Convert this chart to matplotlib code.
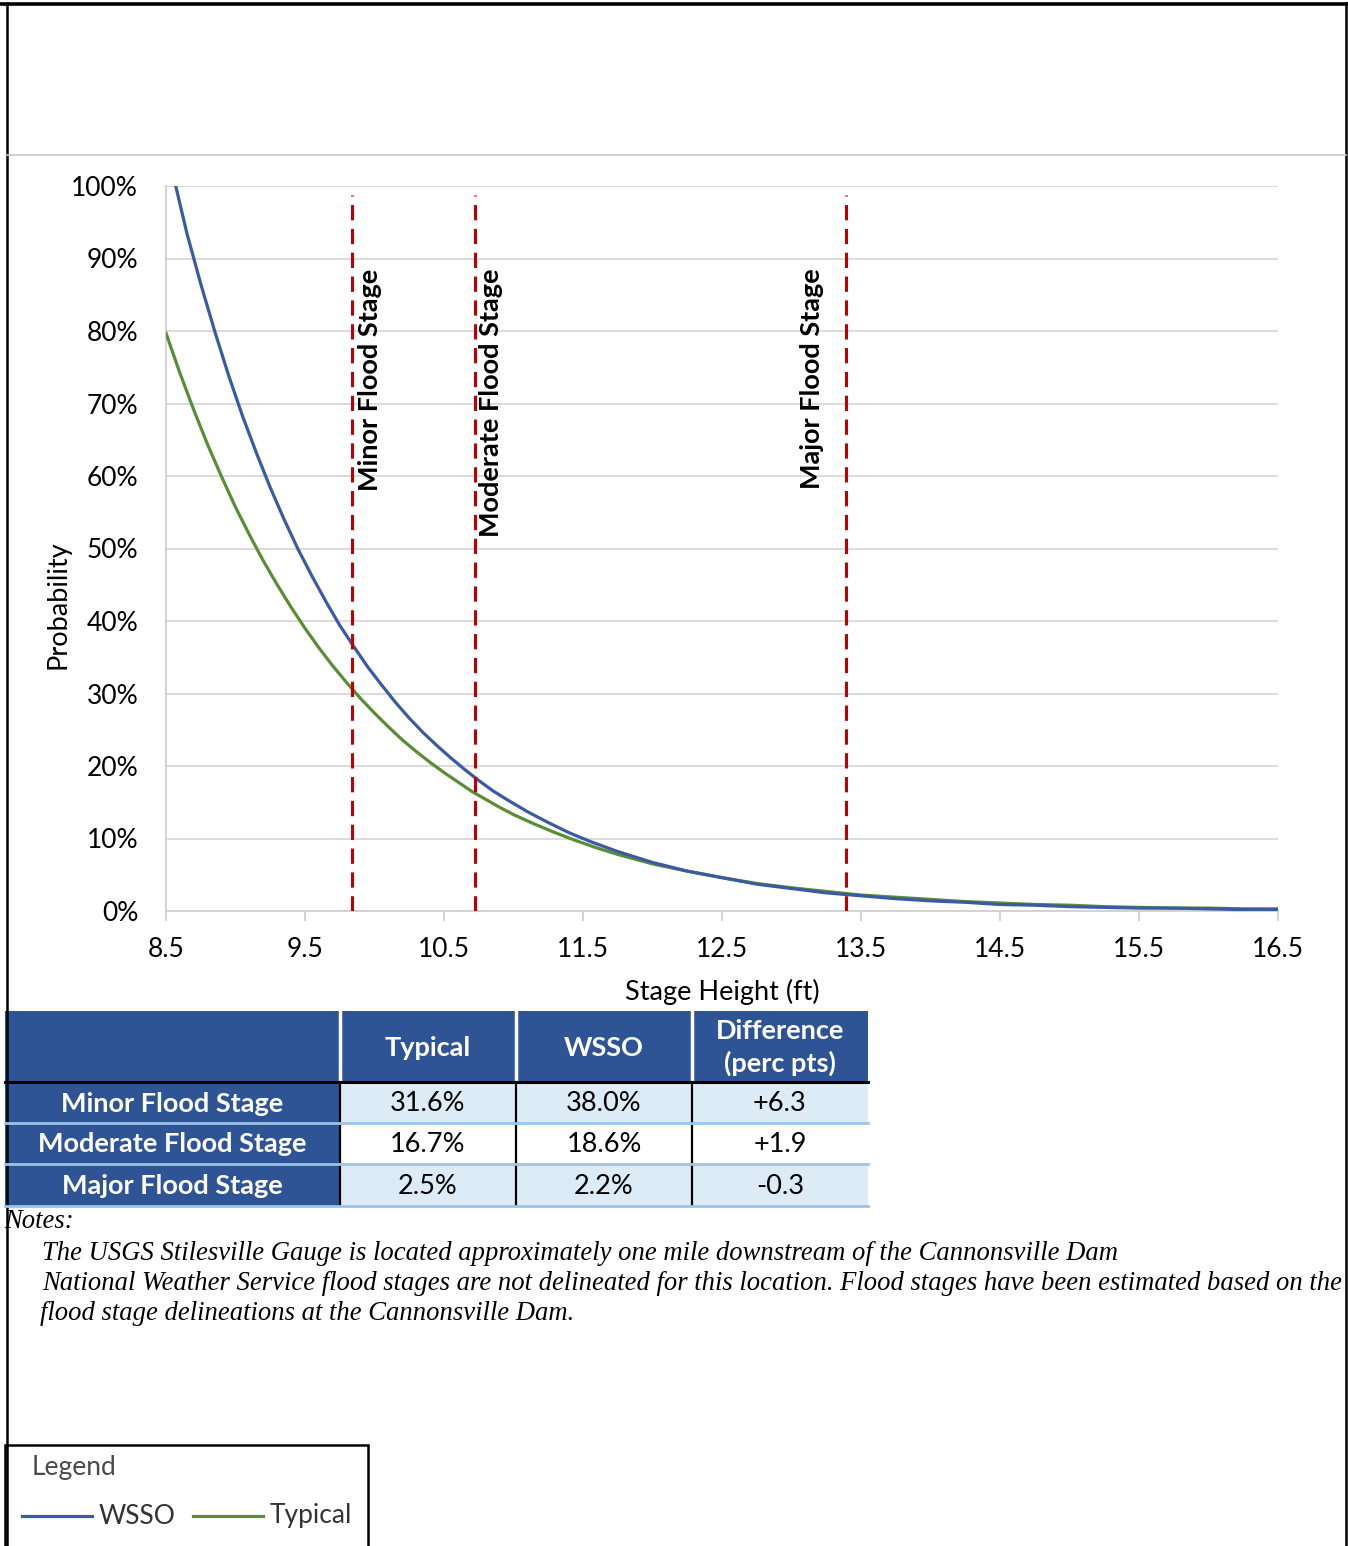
import matplotlib.pyplot as plt
from matplotlib.patches import Rectangle
from matplotlib.ticker import PercentFormatter

plt.rcParams['font.family'] = ['Lato', 'DejaVu Sans']

# exceedance probability vs stage height (ft)
stage_wsso = [8.57, 8.65, 8.75, 8.85, 8.95, 9.05, 9.15, 9.25, 9.35, 9.45, 9.55,
              9.65, 9.75, 9.85, 9.95, 10.05, 10.15, 10.25, 10.35, 10.45, 10.55,
              10.65, 10.75, 10.85, 10.95, 11.1, 11.25, 11.4, 11.55, 11.75, 12.0,
              12.25, 12.5, 12.75, 13.0, 13.25, 13.5, 13.75, 14.0, 14.25, 14.5,
              14.75, 15.0, 15.25, 15.5, 15.75, 16.0, 16.25, 16.5]
prob_wsso = [100.0, 93.5, 86.5, 80.0, 73.9, 68.3, 63.2, 58.4, 54.0, 49.9, 46.2,
             42.7, 39.4, 36.5, 33.7, 31.2, 28.8, 26.6, 24.6, 22.8, 21.1,
             19.5, 18.0, 16.6, 15.4, 13.7, 12.2, 10.8, 9.6, 8.2, 6.7,
             5.5, 4.6, 3.7, 3.1, 2.5, 2.1, 1.7, 1.4, 1.2, 0.9,
             0.8, 0.6, 0.5, 0.4, 0.4, 0.3, 0.2, 0.2]

stage_typical = [8.5, 8.6, 8.7, 8.8, 8.9, 9.0, 9.1, 9.2, 9.3, 9.4, 9.5,
                 9.6, 9.7, 9.8, 9.9, 10.0, 10.1, 10.2, 10.3, 10.4, 10.5,
                 10.6, 10.7, 10.8, 10.9, 11.0, 11.15, 11.3, 11.45, 11.6, 11.75,
                 12.0, 12.25, 12.5, 12.75, 13.0, 13.25, 13.5, 13.75, 14.0, 14.25,
                 14.5, 14.75, 15.0, 15.25, 15.5, 15.75, 16.0, 16.25, 16.5]
prob_typical = [79.7, 74.2, 69.1, 64.3, 59.9, 55.7, 51.9, 48.3, 45.0, 41.9, 39.0,
                36.3, 33.8, 31.5, 29.3, 27.3, 25.4, 23.6, 22.0, 20.5, 19.1,
                17.8, 16.5, 15.4, 14.3, 13.3, 12.0, 10.8, 9.7, 8.7, 7.8,
                6.5, 5.5, 4.6, 3.8, 3.2, 2.7, 2.2, 1.9, 1.6, 1.3,
                1.1, 0.9, 0.8, 0.6, 0.5, 0.4, 0.4, 0.3, 0.3]

flood_names = ['Minor Flood Stage', 'Moderate Flood Stage', 'Major Flood Stage']
flood_stages = [9.84, 10.72, 13.39]

table_header = ['Typical', 'WSSO', 'Difference\n(perc pts)']
table_typical = [31.6, 16.7, 2.5]
table_wsso = [38.0, 18.6, 2.2]
table_diff = [6.3, 1.9, -0.3]

x_ticks = [8.5, 9.5, 10.5, 11.5, 12.5, 13.5, 14.5, 15.5, 16.5]

BLUE = '#3A5BA3'
GREEN = '#5A8D35'
RED = '#C00000'
NAVY = '#2F5496'
LIGHT = '#DDEBF7'
RULE = '#9DC3E6'

W, H = 1348, 1546
fig = plt.figure(figsize=(W / 100, H / 100), dpi=100)

# page layer in pixel units for frame, table, notes and legend
page = fig.add_axes([0, 0, 1, 1], zorder=0)
page.set_xlim(0, W)
page.set_ylim(H, 0)
page.axis('off')

# chart
ax = fig.add_axes([166 / W, 1 - 911 / H, 1112 / W, 725 / H], zorder=2)
ax.set_facecolor('none')
ax.plot(stage_typical, prob_typical, color=GREEN, lw=2.3, zorder=3,
        solid_joinstyle='round')
ax.plot(stage_wsso, prob_wsso, color=BLUE, lw=2.3, zorder=4,
        solid_joinstyle='round')

label_shift = [0.13, 0.12, -0.24]
for name, st, dx in zip(flood_names, flood_stages, label_shift):
    ax.axvline(st, ymin=0, ymax=0.988, color=RED, lw=2.2, dashes=(5, 2.8), zorder=5)
    ax.text(st + dx, 88.6, name, rotation=90, ha='center', va='top',
            fontsize=19.5, fontweight='bold', color='black', zorder=6)

ax.set_xlim(8.5, 16.5)
ax.set_ylim(0, 100)
ax.set_xticks(x_ticks)
ax.set_xticklabels([f'{t:.1f}' for t in x_ticks])
ax.set_yticks(range(0, 101, 10))
ax.yaxis.set_major_formatter(PercentFormatter(decimals=0))
ax.grid(axis='y', color='#D9D9D9', lw=1.3)
ax.set_axisbelow(True)
for side in ['top', 'right']:
    ax.spines[side].set_visible(False)
for side in ['left', 'bottom']:
    ax.spines[side].set_color('#D0D0D0')
    ax.spines[side].set_linewidth(1.3)
ax.tick_params(axis='y', length=0, pad=20, labelsize=19)
ax.tick_params(axis='x', length=7, width=1.3, color='#D0D0D0', pad=12, labelsize=19)
ax.set_xlabel('Stage Height (ft)', fontsize=19.5, labelpad=12)
ax.set_ylabel('Probability', fontsize=19.5)
ax.yaxis.label.set_va('center')
ax.yaxis.set_label_coords(-0.097, 0.422)

# outer frame
page.plot([0, W], [3.5, 3.5], color='black', lw=2.6)
page.plot([6.5, 6.5], [3, H], color='black', lw=1.8)
page.plot([1346, 1346], [3, H], color='black', lw=1.8)
page.plot([6, 1346], [155, 155], color='#C8C8C8', lw=1.2)

# summary table
col_edges = [5, 340, 516, 692, 868]
head_top, head_bot = 1011, 1082
row_edges = [1082, 1123, 1164, 1206]

for c0, c1 in zip(col_edges[:-1], col_edges[1:]):
    page.add_patch(Rectangle((c0, head_top), c1 - c0, head_bot - head_top,
                             facecolor=NAVY, edgecolor='none'))
for i in range(3):
    r0, r1 = row_edges[i], row_edges[i + 1]
    page.add_patch(Rectangle((col_edges[0], r0), col_edges[1] - col_edges[0], r1 - r0,
                             facecolor=NAVY, edgecolor='none'))
    page.add_patch(Rectangle((col_edges[1], r0), col_edges[-1] - col_edges[1], r1 - r0,
                             facecolor=LIGHT if i % 2 == 0 else 'white', edgecolor='none'))

for x in col_edges[1:-1]:
    page.plot([x, x], [head_top, head_bot], color='white', lw=2.5)
    page.plot([x, x], [head_bot, row_edges[-1]], color='black', lw=1.6)
for y in row_edges[1:]:
    page.plot([col_edges[0], col_edges[-1]], [y, y], color=RULE, lw=2)
page.plot([col_edges[0], col_edges[-1]], [head_bot, head_bot], color='black', lw=2.2)

for j, txt in enumerate(table_header):
    cx = (col_edges[j + 1] + col_edges[j + 2]) / 2
    page.text(cx, (head_top + head_bot) / 2 + 1, txt, ha='center', va='center',
              color='white', fontsize=19.5, fontweight='bold', linespacing=1.35)

for i, name in enumerate(flood_names):
    cy = (row_edges[i] + row_edges[i + 1]) / 2 + 1
    page.text((col_edges[0] + col_edges[1]) / 2, cy, name, ha='center', va='center',
              color='white', fontsize=19.5, fontweight='bold')
    cells = [f'{table_typical[i]:.1f}%', f'{table_wsso[i]:.1f}%', f'{table_diff[i]:+.1f}']
    for j, txt in enumerate(cells):
        cx = (col_edges[j + 1] + col_edges[j + 2]) / 2
        page.text(cx, cy, txt, ha='center', va='center', color='black', fontsize=19.5)

# notes
note_font = dict(family=['Liberation Serif', 'DejaVu Serif'], style='italic',
                 fontsize=19.2, color='black', va='center')
page.text(4, 1222, 'Notes:', ha='left', **note_font)
page.text(42, 1253, 'The USGS Stilesville Gauge is located approximately one mile '
          'downstream of the Cannonsville Dam', ha='left', **note_font)
page.text(42, 1284, 'National Weather Service flood stages are not delineated for this '
          'location. Flood stages have been estimated based on the', ha='left', **note_font)
page.text(40, 1314, 'flood stage delineations at the Cannonsville Dam.', ha='left', **note_font)

# legend box
page.add_patch(Rectangle((5, 1445), 363, 110, facecolor='white', edgecolor='black', lw=1.8))
page.text(32, 1468, 'Legend', ha='left', va='center', fontsize=19, color='#4A4A4A')
legend_items = [('WSSO', BLUE, 22), ('Typical', GREEN, 193)]
for name, col, x0 in legend_items:
    page.plot([x0, x0 + 70], [1516, 1516], color=col, lw=2.3)
    page.text(x0 + 77, 1516, name, ha='left', va='center', fontsize=19, color='#333333')

fig.savefig('out.png', dpi=100)
